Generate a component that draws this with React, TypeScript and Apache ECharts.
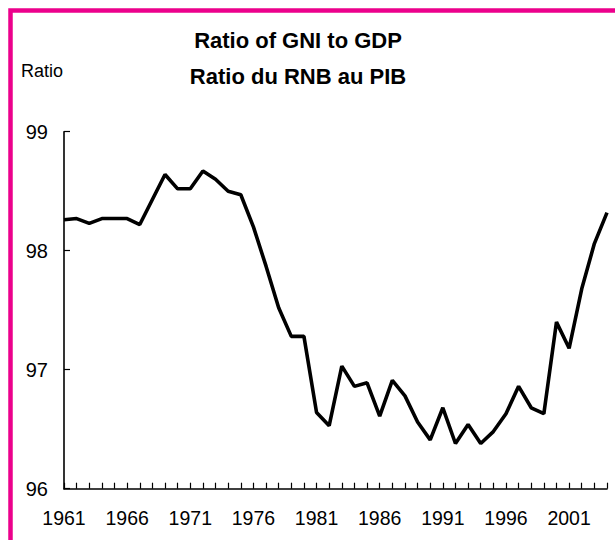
import React, { useEffect, useRef } from "react";
import * as echarts from "echarts";

const years: string[] = [];
for (let y = 1961; y <= 2004; y++) years.push(String(y));

const ratioValues: number[] = [
  98.26, 98.27, 98.23, 98.27, 98.27, 98.27, 98.22, 98.43, 98.64, 98.52,
  98.52, 98.67, 98.6, 98.5, 98.47, 98.2, 97.87, 97.52, 97.28, 97.28,
  96.64, 96.53, 97.03, 96.86, 96.89, 96.61, 96.91, 96.78, 96.56, 96.41,
  96.68, 96.38, 96.54, 96.38, 96.48, 96.63, 96.86, 96.68, 96.63, 97.4,
  97.18, 97.68, 98.06, 98.32,
];

const titleLines = ["Ratio of GNI to GDP", "Ratio du RNB au PIB"];
const yAxisName = "Ratio";

export default function App() {
  const ref = useRef<HTMLDivElement>(null);
  useEffect(() => {
    if (!ref.current) return;
    const chart = echarts.init(ref.current, null, { renderer: "svg" });
    const font = "Liberation Sans, Arial, Helvetica, sans-serif";
    chart.setOption({
      animation: false,
      backgroundColor: "#ffffff",
      textStyle: { fontFamily: font },
      grid: { left: 64, right: 8, top: 131.7, bottom: 51.3, containLabel: false },
      xAxis: {
        type: "category",
        data: years,
        boundaryGap: false,
        axisLine: { lineStyle: { color: "#000", width: 1.6 } },
        axisTick: { inside: true, length: 6, interval: 0, lineStyle: { color: "#000", width: 1.2 } },
        axisLabel: { interval: 4, margin: 19, color: "#000", fontSize: 19.5, fontFamily: font },
        splitLine: { show: false },
      },
      yAxis: {
        type: "value",
        min: 96,
        max: 99,
        interval: 1,
        axisLine: { show: true, lineStyle: { color: "#000", width: 1.6 } },
        axisTick: { show: true, inside: true, length: 6, lineStyle: { color: "#000", width: 1.2 } },
        axisLabel: { margin: 16, color: "#000", fontSize: 20, fontFamily: font },
        splitLine: { show: false },
      },
      series: [
        {
          type: "line",
          data: ratioValues,
          showSymbol: false,
          symbol: "none",
          lineStyle: { color: "#000", width: 3.6 },
          itemStyle: { color: "#000" },
        },
      ],
      graphic: [
        {
          type: "rect",
          shape: { x: 10.5, y: 10.5, width: 700, height: 700 },
          style: { fill: "none", stroke: "#EC008C", lineWidth: 4.5 },
          silent: true,
        },
        {
          type: "text",
          x: 298,
          y: 40,
          style: {
            text: titleLines[0],
            fontSize: 22,
            fontWeight: "bold",
            fontFamily: font,
            fill: "#000",
            textAlign: "center",
            textVerticalAlign: "middle",
          },
        },
        {
          type: "text",
          x: 298,
          y: 76,
          style: {
            text: titleLines[1],
            fontSize: 22,
            fontWeight: "bold",
            fontFamily: font,
            fill: "#000",
            textAlign: "center",
            textVerticalAlign: "middle",
          },
        },
        {
          type: "text",
          x: 21,
          y: 70.5,
          style: {
            text: yAxisName,
            fontSize: 18,
            fontFamily: font,
            fill: "#000",
            textAlign: "left",
            textVerticalAlign: "middle",
          },
        },
      ],
    });
    return () => chart.dispose();
  }, []);
  return (
    <div
      ref={ref}
      style={{ position: "fixed", left: 0, top: 0, width: 615, height: 540 }}
    />
  );
}
